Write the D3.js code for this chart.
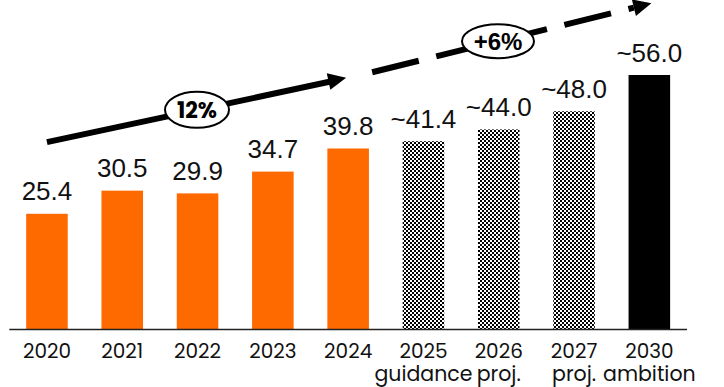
<!DOCTYPE html>
<html>
<head>
<meta charset="utf-8">
<script src="https://cdn.jsdelivr.net/npm/d3@7"></script>
<style>
  html, body { margin: 0; padding: 0; background: #fff; }
  svg { display: block; }
</style>
</head>
<body>
<svg id="chart" width="724" height="387"></svg>
<script>
// ---- data ----
const years = ["2020", "2021", "2022", "2023", "2024", "2025", "2026", "2027", "2030"];
const values = [25.4, 30.5, 29.9, 34.7, 39.8, 41.4, 44.0, 48.0, 56.0];
const valueLabels = ["25.4", "30.5", "29.9", "34.7", "39.8", "~41.4", "~44.0", "~48.0", "~56.0"];
const barKinds = ["actual", "actual", "actual", "actual", "actual", "outlook", "outlook", "outlook", "ambition"];
const subLabels = ["", "", "", "", "", "guidance", "proj.", "proj.", "ambition"];
const cagrLabels = ["12%", "+6%"];

// ---- layout ----
const svg = d3.select("#chart");
const x = d3.scaleBand().domain(years).range([9.3, 687]).paddingInner(0.448).paddingOuter(0.224);
const y = d3.scaleLinear().domain([0, 56]).range([329, 75]);
const cx = d => x(d) + x.bandwidth() / 2;

const defs = svg.append("defs");
const pat = defs.append("pattern").attr("id", "checker").attr("patternUnits", "userSpaceOnUse")
  .attr("width", 4).attr("height", 4);
pat.append("rect").attr("width", 4).attr("height", 4).attr("fill", "#fff");
pat.append("rect").attr("x", 0).attr("y", 0).attr("width", 2).attr("height", 2).attr("fill", "#000");
pat.append("rect").attr("x", 2).attr("y", 2).attr("width", 2).attr("height", 2).attr("fill", "#000");

const fillFor = k => k === "actual" ? "#ff6a00" : (k === "outlook" ? "url(#checker)" : "#000");

// bars
svg.append("g").selectAll("rect").data(years).join("rect")
  .attr("x", d => x(d))
  .attr("y", (d, i) => y(values[i]))
  .attr("width", x.bandwidth())
  .attr("height", (d, i) => y(0) - y(values[i]))
  .attr("fill", (d, i) => fillFor(barKinds[i]));

// value labels
svg.append("g").selectAll("text").data(years).join("text")
  .attr("x", d => cx(d))
  .attr("y", (d, i) => y(values[i]) - 13.5)
  .attr("text-anchor", "middle")
  .attr("font-family", "'Liberation Sans', Arial, sans-serif")
  .attr("font-size", 26)
  .attr("fill", "#111")
  .text((d, i) => valueLabels[i]);

// x axis
const axis = svg.append("g").attr("transform", `translate(0,${y(0)})`)
  .call(d3.axisBottom(x).tickSize(0).tickPadding(0));
axis.select(".domain").attr("stroke", "#222").attr("stroke-width", 1.6).attr("d", "M9.3,0.5H687");
axis.selectAll(".tick text")
  .attr("y", 29)
  .attr("dy", 0)
  .attr("font-family", "Poppins, 'Open Sans', sans-serif")
  .attr("font-size", 20)
  .attr("fill", "#111");

// sub labels
svg.append("g").selectAll("text").data(years).join("text")
  .attr("x", d => cx(d))
  .attr("y", 381)
  .attr("text-anchor", "middle")
  .attr("font-family", "Poppins, 'Open Sans', sans-serif")
  .attr("font-size", 20.5)
  .attr("fill", "#111")
  .text((d, i) => subLabels[i]);

// ---- CAGR arrows ----
const g = svg.append("g");
const s0 = [cx("2020"), y(41.2)], s1 = [cx("2024") - 2, y(55.4)];
function arrowHead(p0, p1, len, wid) {
  const dx = p1[0] - p0[0], dy = p1[1] - p0[1], L = Math.hypot(dx, dy);
  const ux = dx / L, uy = dy / L, nx = -uy, ny = ux;
  const bx = p1[0] - ux * len, by = p1[1] - uy * len;
  return { base: [bx, by], pts: [[p1[0], p1[1]], [bx + nx * wid / 2, by + ny * wid / 2], [bx - nx * wid / 2, by - ny * wid / 2]] };
}
const h1 = arrowHead(s0, s1, 18, 17);
g.append("line").attr("x1", s0[0]).attr("y1", s0[1]).attr("x2", h1.base[0] + 2).attr("y2", h1.base[1])
  .attr("stroke", "#000").attr("stroke-width", 6);
g.append("polygon").attr("points", h1.pts.map(p => p.join(",")).join(" ")).attr("fill", "#000");

const d0 = [cx("2024") + 24, y(56.6)], d1 = [cx("2030") + 2, y(71.8)];
const h2 = arrowHead(d0, d1, 18, 17);
g.append("line").attr("x1", d0[0]).attr("y1", d0[1]).attr("x2", h2.base[0]).attr("y2", h2.base[1])
  .attr("stroke", "#000").attr("stroke-width", 6).attr("stroke-dasharray", "48,18");
g.append("polygon").attr("points", h2.pts.map(p => p.join(",")).join(" ")).attr("fill", "#000");

function badge(px, py, rx, ry, label, fam, fs) {
  g.append("ellipse").attr("cx", px).attr("cy", py).attr("rx", rx).attr("ry", ry)
    .attr("fill", "#fff").attr("stroke", "#000").attr("stroke-width", 2);
  g.append("text").attr("x", px).attr("y", py).attr("dy", "0.36em")
    .attr("text-anchor", "middle").attr("font-family", fam)
    .attr("font-weight", "bold").attr("font-size", fs).attr("fill", "#000").text(label);
}
const t1 = (197 - s0[0]) / (s1[0] - s0[0]);
badge(197, s0[1] + t1 * (s1[1] - s0[1]), 32, 18, cagrLabels[0], "Poppins, 'Open Sans', sans-serif", 22);
const t2 = (498 - d0[0]) / (d1[0] - d0[0]);
badge(498, d0[1] + t2 * (d1[1] - d0[1]), 36, 17, cagrLabels[1], "'Liberation Sans', Arial, sans-serif", 24);
</script>
</body>
</html>
